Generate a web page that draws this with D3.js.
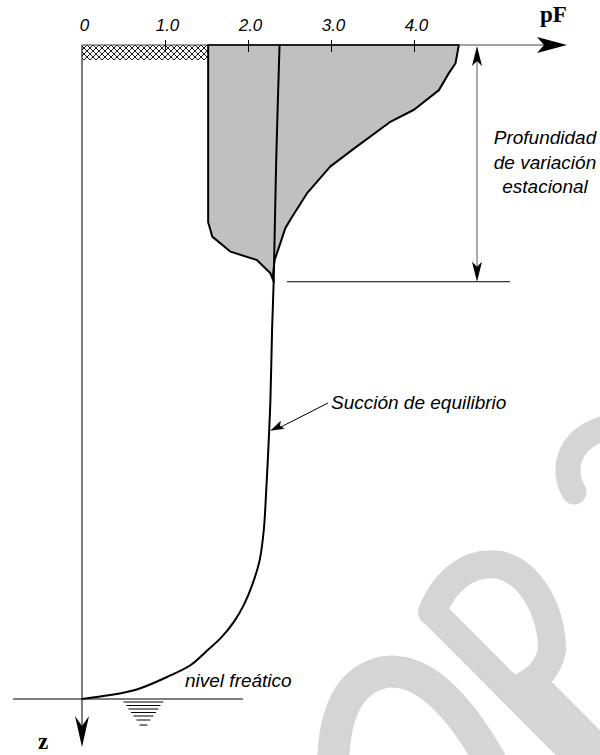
<!DOCTYPE html>
<html>
<head>
<meta charset="utf-8">
<script src="https://cdn.jsdelivr.net/npm/d3@7"></script>
<style>
  body { margin: 0; background: #fff; }
  text { font-family: "Liberation Sans", Arial, sans-serif; font-style: italic; }
  .serif { font-family: "Liberation Serif", "Times New Roman", serif; font-style: normal; font-weight: bold; }
</style>
</head>
<body>
<div id="chart"></div>
<script>
// pF axis ticks
const pFTicks = [0, 1, 2, 3, 4];
const tickLabels = ['0', '1.0', '2.0', '3.0', '4.0'];

// lower envelope of seasonal suction (left edge of grey band)
const minDepth = [0, 2.71, 2.93, 3.16, 3.29, 3.49, 3.62];
const minPF    = [1.52, 1.52, 1.57, 1.79, 2.11, 2.27, 2.31];

// upper envelope of seasonal suction (right edge of grey band)
const maxDepth = [0, 0.28, 0.43, 0.69, 0.99, 1.17, 1.58, 1.86, 2.27, 2.63, 2.80, 3.03, 3.29, 3.54, 3.62];
const maxPF    = [4.54, 4.50, 4.42, 4.30, 4.00, 3.72, 3.28, 2.99, 2.71, 2.53, 2.45, 2.39, 2.32, 2.30, 2.31];

// equilibrium suction profile
const eqDepth = [0, 1.76, 3.59, 4.36, 5.43, 6.04, 6.80, 7.42, 7.88, 8.26, 8.56, 8.82, 9.07, 9.28, 9.48, 9.66, 9.85, 9.94, 10];
const eqPF    = [2.38, 2.34, 2.31, 2.29, 2.27, 2.25, 2.22, 2.19, 2.14, 2.05, 1.95, 1.83, 1.67, 1.49, 1.31, 1.03, 0.67, 0.34, 0];

// crusted / cracked surface layer (hatched)
const crustPF = [0, 1.52];
const crustDepth = 0.23;

const seasonalDepth = 3.62;
const waterTableDepth = 10;

const width = 600, height = 755;

const svg = d3.select('#chart').append('svg')
    .attr('width', width)
    .attr('height', height);

const x = d3.scaleLinear().domain([0, 4]).range([82, 414]);
const y = d3.scaleLinear().domain([0, 10]).range([45, 699]);

const toPts = (ps, ds) => ps.map((p, i) => [x(p), y(ds[i])]);
const line = d3.line();

// arrow head pointing along angle (radians), concave back
function arrowHead(tx, ty, ang, len, half, notch) {
    const c = Math.cos(ang), s = Math.sin(ang);
    const p = (a, b) => [tx - a * c - b * s, ty - a * s + b * c];
    return 'M' + [[tx, ty], p(len, half), p(notch, 0), p(len, -half)].map(d => d.join(',')).join('L') + 'Z';
}

// -------------- watermark (decorative) --------------
const wm = svg.append('g')
    .attr('fill', 'none')
    .attr('stroke', '#d5d5d5')
    .attr('stroke-linecap', 'round');
wm.append('path').attr('stroke-width', 32)
    .attr('d', 'M333,770 C333,720 345,680 385,672 C415,668 450,690 490,760');
wm.append('path').attr('stroke-width', 28)
    .attr('d', 'M432,612 C445,580 470,560 500,565 C530,572 552,610 552,650 C548,670 535,680 525,685 M437,616 L620,800 M540,690 L620,770');
wm.append('path').attr('stroke-width', 25)
    .attr('d', 'M574,492 C562,470 566,440 605,428');

// -------------- hatch pattern --------------
const pat = svg.append('defs').append('pattern')
    .attr('id', 'hatch')
    .attr('patternUnits', 'userSpaceOnUse')
    .attr('width', 6).attr('height', 6);
pat.append('rect').attr('width', 6).attr('height', 6).attr('fill', '#fff');
pat.append('path')
    .attr('d', 'M0,0L6,6M6,0L0,6')
    .attr('stroke', '#000')
    .attr('stroke-width', 0.9);

svg.append('rect')
    .attr('x', x(crustPF[0]))
    .attr('y', y(0))
    .attr('width', x(crustPF[1]) - x(crustPF[0]))
    .attr('height', y(crustDepth) - y(0))
    .attr('fill', 'url(#hatch)');

// -------------- seasonal band --------------
const band = toPts(minPF, minDepth).concat(toPts(maxPF, maxDepth).reverse());
svg.append('path')
    .attr('d', line(band) + 'Z')
    .attr('fill', '#c0c0c0')
    .attr('stroke', '#000')
    .attr('stroke-width', 2)
    .attr('stroke-linejoin', 'round');

// -------------- axes --------------
const axisEnd = 567;
svg.append('line')
    .attr('x1', x(0)).attr('x2', axisEnd - 20)
    .attr('y1', y(0)).attr('y2', y(0))
    .attr('stroke', '#444').attr('stroke-width', 1.2);
svg.append('path')
    .attr('d', arrowHead(axisEnd, y(0), 0, 30, 8, 23))
    .attr('fill', '#000');

svg.append('line')
    .attr('x1', x(0)).attr('x2', x(0))
    .attr('y1', y(0)).attr('y2', 730)
    .attr('stroke', '#000').attr('stroke-width', 1);
svg.append('path')
    .attr('d', arrowHead(x(0), 747, Math.PI / 2, 31, 7, 21))
    .attr('fill', '#000');

const axis = svg.append('g')
    .attr('transform', `translate(0,${y(0)})`)
    .call(d3.axisTop(x).tickValues(pFTicks).tickSize(5).tickFormat((d, i) => tickLabels[i]));
axis.select('.domain').remove();
axis.selectAll('.tick line')
    .attr('y1', 7).attr('y2', -5)
    .attr('stroke', '#000')
    .filter(d => d === 0).remove();
axis.selectAll('.tick text')
    .attr('y', -14)
    .attr('dy', 0)
    .attr('dx', 2)
    .style('font-family', '"Liberation Sans", Arial, sans-serif')
    .style('font-style', 'italic')
    .style('font-size', '17px')
    .attr('fill', '#000');

svg.append('text').attr('class', 'serif')
    .attr('x', 540).attr('y', 22)
    .style('font-size', '23px')
    .text('pF');
svg.append('text').attr('class', 'serif')
    .attr('x', 38).attr('y', 749)
    .style('font-size', '23px')
    .text('z');

// -------------- equilibrium suction --------------
svg.append('path')
    .attr('d', d3.line().curve(d3.curveCatmullRom)(toPts(eqPF, eqDepth)))
    .attr('fill', 'none')
    .attr('stroke', '#000')
    .attr('stroke-width', 2);

// leader to the equilibrium line
const tipDepth = 5.9;
const tipX = x(d3.scaleLinear().domain(eqDepth.slice(4, 6)).range(eqPF.slice(4, 6))(tipDepth)) + 1;
const tipY = y(tipDepth);
const fromX = 328, fromY = 403;
svg.append('line')
    .attr('x1', fromX).attr('y1', fromY)
    .attr('x2', tipX + 10).attr('y2', tipY - 3.5)
    .attr('stroke', '#000').attr('stroke-width', 1);
svg.append('path')
    .attr('d', arrowHead(tipX, tipY, Math.atan2(tipY - fromY, tipX - fromX), 14, 4.5, 11))
    .attr('fill', '#000');
svg.append('text')
    .attr('x', 331).attr('y', 409)
    .style('font-size', '19px')
    .text('Succión de equilibrio');

// -------------- seasonal depth dimension --------------
const dimX = 477;
svg.append('line')
    .attr('x1', dimX).attr('x2', dimX)
    .attr('y1', y(0) + 6).attr('y2', y(seasonalDepth) - 6)
    .attr('stroke', '#555').attr('stroke-width', 1);
svg.append('path')
    .attr('d', arrowHead(dimX, y(0) + 1, -Math.PI / 2, 20, 5, 15))
    .attr('fill', '#000');
svg.append('path')
    .attr('d', arrowHead(dimX, y(seasonalDepth), Math.PI / 2, 20, 5, 15))
    .attr('fill', '#000');
svg.append('line')
    .attr('x1', 287).attr('x2', 510)
    .attr('y1', y(seasonalDepth)).attr('y2', y(seasonalDepth))
    .attr('stroke', '#000').attr('stroke-width', 1);

svg.append('text')
    .attr('x', 545).attr('y', 144)
    .attr('text-anchor', 'middle')
    .style('font-size', '19px')
    .selectAll('tspan')
    .data(['Profundidad', 'de variación', 'estacional'])
    .join('tspan')
    .attr('x', 545)
    .attr('dy', (d, i) => i === 0 ? 0 : 24.5)
    .text(d => d);

// -------------- water table --------------
svg.append('line')
    .attr('x1', 13).attr('x2', 243)
    .attr('y1', y(waterTableDepth)).attr('y2', y(waterTableDepth))
    .attr('stroke', '#000').attr('stroke-width', 1);

const wtX = x(0.74);
const wtOffsets = [3, 6.5, 10, 13.5, 17, 21, 26];
const wtHalf = [20, 17, 15, 12.5, 10, 7, 4];
svg.selectAll('.wt')
    .data(wtOffsets)
    .join('line')
    .attr('class', 'wt')
    .attr('x1', (d, i) => wtX - wtHalf[i])
    .attr('x2', (d, i) => wtX + wtHalf[i])
    .attr('y1', d => y(waterTableDepth) + d)
    .attr('y2', d => y(waterTableDepth) + d)
    .attr('stroke', '#000').attr('stroke-width', 1);

svg.append('text')
    .attr('x', 185).attr('y', 687)
    .style('font-size', '19px')
    .text('nivel freático');
</script>
</body>
</html>
